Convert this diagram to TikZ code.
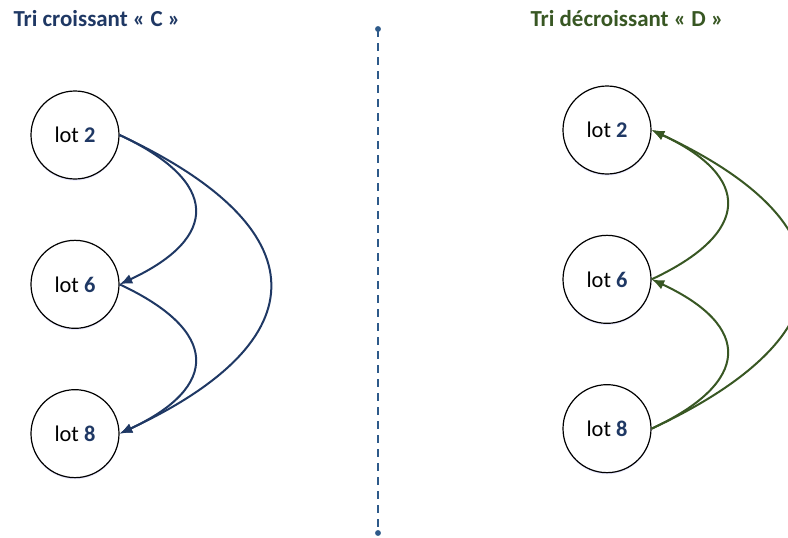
\documentclass[tikz,border=0pt]{standalone}
\usepackage{fontspec}
\setmainfont{Carlito}
\usepackage{tikz}
\usetikzlibrary{arrows,arrows.meta,positioning,shadows}
\definecolor{darkblue}{HTML}{1F3864}
\definecolor{darkgreen}{HTML}{385723}
\definecolor{lineblue}{HTML}{2E5A8A}

\begin{document}
\begin{tikzpicture}[x=0.75pt,y=0.75pt,>={Latex[length=9.5pt,width=7.5pt]},thick,node distance = 112pt]
\tikzstyle{lot}=[circle,draw=black,line width=0.9pt,fill=white,minimum size=66pt,inner sep=0pt,
  font=\fontsize{16.8}{20}\selectfont,
  drop shadow={shadow xshift=0pt,shadow yshift=-1.2pt,fill=blue!25,opacity=0.35}]
\tikzstyle{title}=[anchor=west,font=\fontsize{17.2}{20}\selectfont\bfseries,inner sep=0pt]
\newcommand{\num}[1]{\textbf{\textcolor{darkblue}{#1}}}
\clip (0,0) rectangle (788,537);
% titles
\node[title,text=darkblue] (TC) at (13,518) {Tri croissant « C »};
\node[title,text=darkgreen] (TD) at (530,518) {Tri décroissant « D »};
% separator
\coordinate (S1) at (378,508);
\coordinate (S2) at (378,4);
\draw[lineblue,line width=1pt,dash pattern=on 6pt off 4.5pt] (S1) -- (S2);
\fill[lineblue] (S1) circle (2.2pt) (S2) circle (2.2pt);
% croissant
\node[lot] (L2) at (75,402) {lot \num{2}};
\node[lot] (L6) [below of = L2] {lot \num{6}};
\node[lot] (L8) [below of = L6] {lot \num{8}};
\path[->,darkblue,line width=1.5pt]
  (L2.east) edge[out=-25,in=25,looseness=1.9] (L6.east)
  (L6.east) edge[out=-25,in=25,looseness=1.9] (L8.east)
  (L2.east) edge[out=-25,in=25,looseness=1.9] (L8.east);
% decroissant
\node[lot] (R2) at (607,407) {lot \num{2}};
\node[lot] (R6) [below of = R2] {lot \num{6}};
\node[lot] (R8) [below of = R6] {lot \num{8}};
\path[->,darkgreen,line width=1.5pt]
  (R6.east) edge[out=25,in=-25,looseness=1.9] (R2.east)
  (R8.east) edge[out=25,in=-25,looseness=1.9] (R6.east)
  (R8.east) edge[out=25,in=-25,looseness=1.9] (R2.east);
\end{tikzpicture}
\end{document}
